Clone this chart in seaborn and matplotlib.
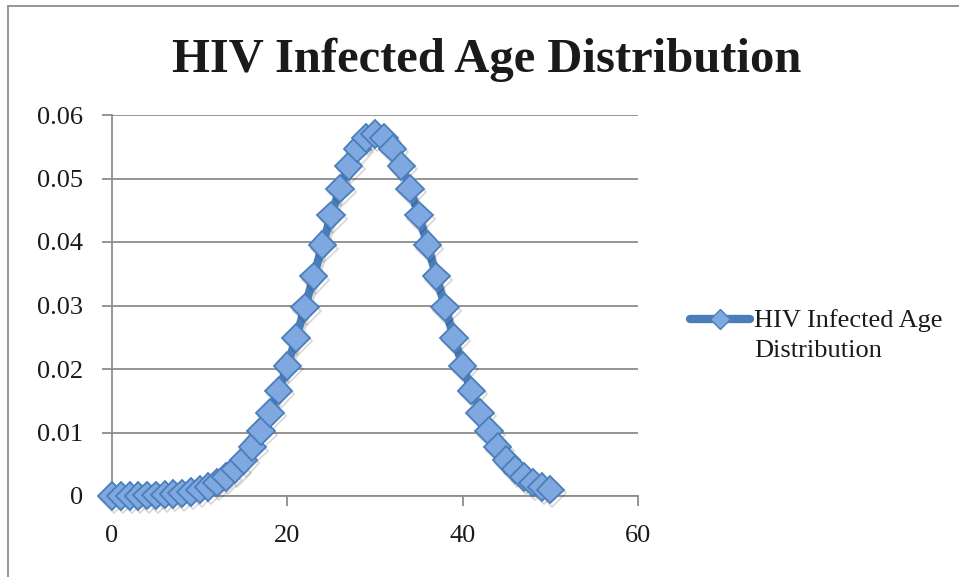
import matplotlib
matplotlib.use("Agg")
import matplotlib.pyplot as plt
import matplotlib.patheffects as pe
from matplotlib.lines import Line2D
import seaborn as sns
import pandas as pd

# Values (age vs share of infected)
ages = list(range(0, 51))
share = [
    0.0000, 0.0000, 0.0000, 0.0000, 0.0001, 0.0001, 0.0002, 0.0003, 0.0004, 0.0006,
    0.0010, 0.0014, 0.0021, 0.0030, 0.0042, 0.0057, 0.0077, 0.0102, 0.0131, 0.0166,
    0.0205, 0.0249, 0.0297, 0.0346, 0.0395, 0.0442, 0.0484, 0.0520, 0.0547, 0.0564,
    0.0570,
    0.0564, 0.0547, 0.0520, 0.0484, 0.0442, 0.0395, 0.0346, 0.0297, 0.0249, 0.0205,
    0.0166, 0.0131, 0.0102, 0.0077, 0.0057, 0.0042, 0.0030, 0.0021, 0.0014, 0.0010,
]
series_name = "HIV Infected Age Distribution"
legend_lines = ["HIV Infected Age", "Distribution"]
y_ticks = [0, 0.01, 0.02, 0.03, 0.04, 0.05, 0.06]
y_labels = ["0", "0.01", "0.02", "0.03", "0.04", "0.05", "0.06"]
x_ticks = [0, 20, 40, 60]

df = pd.DataFrame({"Age": ages, "Share": share})

sns.set_style("white")
plt.rcParams["font.family"] = ["Liberation Serif", "DejaVu Serif"]

line_col = "#4a7ebb"
fill_col = "#7fa8e0"
grid_col = "#8c8c8c"
text_col = "#1a1a1a"

W, H = 959, 577
fig = plt.figure(figsize=(W / 100, H / 100), dpi=100)
ax = fig.add_axes([112 / W, 1 - 496 / H, 526 / W, 381 / H])

sns.lineplot(data=df, x="Age", y="Share", ax=ax, color=line_col, linewidth=6,
             marker="D", markersize=14, markerfacecolor=fill_col,
             markeredgecolor=line_col, markeredgewidth=1.3, clip_on=False,
             path_effects=[pe.SimpleLineShadow(offset=(1.5, -2.5), alpha=0.15), pe.Normal()],
             label=series_name, legend=False, zorder=3)

ax.set_xlim(0, 60)
ax.set_ylim(0, 0.06)
ax.set_xticks(x_ticks)
ax.set_xticklabels([str(t) for t in x_ticks])
ax.set_yticks(y_ticks)
ax.set_yticklabels(y_labels)
ax.set_xlabel("")
ax.set_ylabel("")
ax.yaxis.grid(True, color=grid_col, linewidth=1.3)
ax.set_axisbelow(True)
for s in ["top", "right"]:
    ax.spines[s].set_visible(False)
for s in ["left", "bottom"]:
    ax.spines[s].set_color(grid_col)
    ax.spines[s].set_linewidth(1.3)
    ax.spines[s].set_zorder(1)
ax.tick_params(axis="both", which="both", direction="out", length=7, width=1.3,
               color=grid_col, labelsize=19, labelcolor=text_col, pad=14)
ax.tick_params(axis="x", bottom=True)
ax.tick_params(axis="y", left=True)

fig.text(0.508, 0.897, series_name, ha="center", va="center",
         fontsize=35, fontweight="bold", color=text_col)

# legend drawn by hand so the key sits on the first text line, like the original
key = Line2D([690 / W, 720 / W, 750 / W], [1 - 319 / H] * 3, transform=fig.transFigure,
             color=line_col, linewidth=6, solid_capstyle="round",
             marker="D", markevery=[1], markersize=10,
             markerfacecolor=fill_col, markeredgecolor=line_col)
fig.add_artist(key)
fig.text(754 / W, 1 - 327 / H, legend_lines[0], ha="left", va="baseline",
         fontsize=19, color=text_col)
fig.text(754 / W, 1 - 357 / H, legend_lines[1], ha="left", va="baseline",
         fontsize=19, color=text_col)

# outer chart border (top and left edges visible)
fig.add_artist(Line2D([8 / W, 1], [1 - 6 / H, 1 - 6 / H], color=grid_col,
                      linewidth=1.3, transform=fig.transFigure))
fig.add_artist(Line2D([8 / W, 8 / W], [0, 1 - 6 / H], color=grid_col,
                      linewidth=1.3, transform=fig.transFigure))

fig.savefig("out.png", dpi=100)
